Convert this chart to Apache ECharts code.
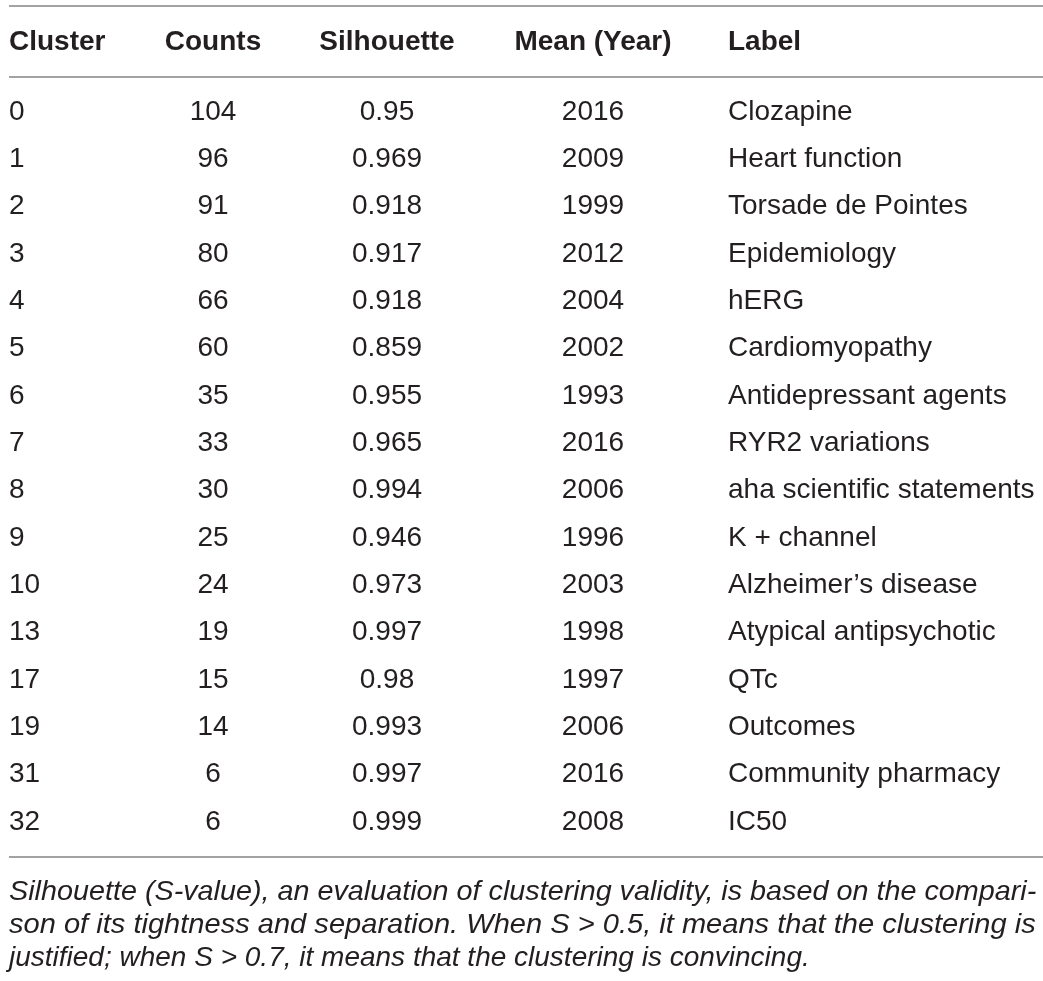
<!DOCTYPE html>
<html><head><meta charset="utf-8">
<script src="https://cdn.jsdelivr.net/npm/echarts@6/dist/echarts.min.js"></script>
<style>html,body{margin:0;padding:0;background:#fff}#c{width:1043px;height:981px}</style>
</head><body><div id="c"></div>
<script>
const headers = ["Cluster", "Counts", "Silhouette", "Mean (Year)", "Label"];
const clusters = ["0","1","2","3","4","5","6","7","8","9","10","13","17","19","31","32"];
const counts = ["104","96","91","80","66","60","35","33","30","25","24","19","15","14","6","6"];
const silhouette = ["0.95","0.969","0.918","0.917","0.918","0.859","0.955","0.965","0.994","0.946","0.973","0.997","0.98","0.993","0.997","0.999"];
const meanYear = ["2016","2009","1999","2012","2004","2002","1993","2016","2006","1996","2003","1998","1997","2006","2016","2008"];
const labels = ["Clozapine","Heart function","Torsade de Pointes","Epidemiology","hERG","Cardiomyopathy","Antidepressant agents","RYR2 variations","aha scientific statements","K + channel","Alzheimer\u2019s disease","Atypical antipsychotic","QTc","Outcomes","Community pharmacy","IC50"];
const captionLines = [
  "Silhouette (S-value), an evaluation of clustering validity, is based on the compari-",
  "son of its tightness and separation. When S > 0.5, it means that the clustering is",
  "justified; when S > 0.7, it means that the clustering is convincing."
];

const columns = [clusters, counts, silhouette, meanYear, labels];
const colAnchor = [9, 213, 387, 593, 728];
const colAlign = ['left', 'center', 'center', 'center', 'left'];
const captionStretch = [1.027, 1.038, 1];
const TEXT = '#231f20';
const FONT = '"Liberation Sans", Arial, sans-serif';
const rowIdx = clusters.map((_, i) => String(i));

const chart = echarts.init(document.getElementById('c'));
const series = columns.map((col, c) => ({
  type: 'scatter',
  symbolSize: 0,
  silent: true,
  itemStyle: {opacity: 1},
  data: col.map((v, i) => [colAnchor[c], String(i)]),
  label: {
    show: true,
    position: 'inside',
    align: colAlign[c],
    verticalAlign: 'middle',
    color: TEXT,
    opacity: 1,
    fontFamily: FONT,
    fontSize: 28,
    formatter: p => col[p.dataIndex]
  }
}));

const graphics = [];
[6, 77, 857].forEach(y => graphics.push({
  type: 'line', shape: {x1: 9, y1: y, x2: 1043, y2: y},
  style: {stroke: '#a3a3a3', lineWidth: 2}
}));
headers.forEach((h, c) => graphics.push({
  type: 'text', x: colAnchor[c], y: 42,
  style: {text: h, fill: TEXT, font: 'bold 28px ' + FONT, textAlign: colAlign[c], textVerticalAlign: 'middle'}
}));
captionLines.forEach((t, i) => graphics.push({
  type: 'text', x: 9, y: 892 + i * 33, scaleX: captionStretch[i],
  style: {text: t, fill: TEXT, font: 'italic 28px ' + FONT, textAlign: 'left', textVerticalAlign: 'middle'}
}));

chart.setOption({
  animation: false,
  grid: {left: 0, right: 0, top: 88.33, bottom: 135.33},
  xAxis: {type: 'value', min: 0, max: 1043, show: false},
  yAxis: {type: 'category', data: rowIdx, inverse: true, show: false},
  series: series,
  graphic: graphics
});
</script></body></html>
